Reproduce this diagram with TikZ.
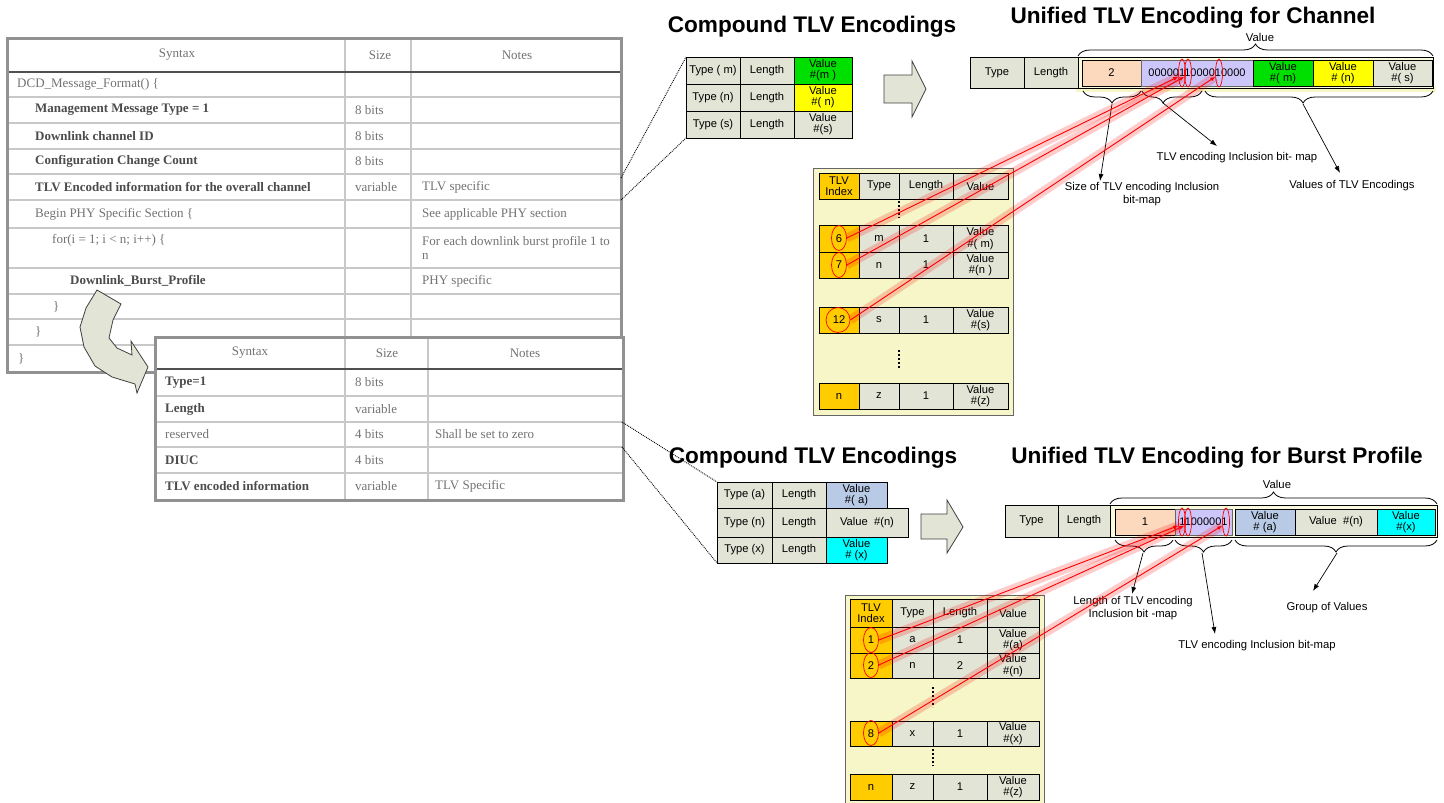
\documentclass[tikz,border=0pt]{standalone}
\usepackage{fontspec}
\setmainfont{Liberation Sans}
\newfontfamily\tabfont{Liberation Serif}
\usetikzlibrary{arrows.meta,shapes.geometric,decorations.pathreplacing,calc}
\definecolor{cellg}{RGB}{226,228,214}
\definecolor{peach}{RGB}{252,216,188}
\definecolor{lav}{RGB}{204,198,250}
\definecolor{vgreen}{RGB}{0,224,0}
\definecolor{vyellow}{RGB}{255,255,0}
\definecolor{vblue}{RGB}{184,202,230}
\definecolor{vcyan}{RGB}{0,255,255}
\definecolor{gold}{RGB}{255,204,0}
\definecolor{panel}{RGB}{246,246,200}
\definecolor{arrowfill}{RGB}{226,229,214}
\definecolor{tabgrey}{RGB}{200,200,200}
\definecolor{tabdark}{RGB}{80,80,80}
\definecolor{tabouter}{RGB}{145,145,145}
\newcommand\tcell[7]{\node[cell,fill=#6,anchor=north west,minimum width={(#4-#2)*1pt},minimum height={(#5-#3)*1pt}] (#1) at (#2,#3) {#7};}
\begin{document}
\begin{tikzpicture}[x=1pt,y=-1pt,
  cell/.style={draw=black,line width=0.8pt,inner sep=0pt,outer sep=0pt,align=center,font=\fontsize{11.2}{11.2}\selectfont},
  icell/.style={cell,draw=black!60,line width=0.5pt},
  ttl/.style={font=\fontsize{22.6}{24}\selectfont\bfseries},
  lbl/.style={font=\fontsize{11.3}{13}\selectfont,align=center,inner sep=0pt},
  tl/.style={font=\tabfont\fontsize{13}{14.5}\selectfont,text=black!55,anchor=west,inner sep=0pt},
  tlb/.style={font=\tabfont\bfseries\fontsize{13}{14.5}\selectfont,text=black!70,anchor=west,inner sep=0pt},
  th/.style={font=\tabfont\fontsize{13}{14.5}\selectfont,text=black!55,inner sep=0pt},
  gridl/.style={tabgrey,line width=1.5pt},
  hdrl/.style={tabdark,line width=2.5pt},
  outl/.style={tabouter,line width=3pt},
  blockarrow/.style={draw=black!75,fill=arrowfill,line width=0.8pt},
  zoomline/.style={black,line width=0.9pt,densely dotted},
  band/.style={line width=9pt,red,opacity=0.2},
  redarr/.style={red,line width=0.9pt,-{Latex[length=5pt,width=4pt]}},
  bitell/.style={ellipse,draw=red,line width=0.7pt,minimum width=7pt,minimum height=28pt,inner sep=0pt},
  idxell/.style={ellipse,draw=red,line width=0.7pt,minimum width=15pt,minimum height=25pt,inner sep=0pt},
  vdotsl/.style={line width=1.8pt,dash pattern=on 2pt off 2pt},
  brc/.style={decorate,decoration={brace,amplitude=12pt},line width=0.8pt},
  pointer/.style={-{Latex[length=7pt,width=5pt]},line width=0.7pt}]
\useasboundingbox[fill=white] (0,0) rectangle (1444,803);

% ---------- left table 1 ----------
\fill[white] (7,38) rectangle (621,372);
\foreach \yy in {97,123,149,174,200,228,268,294,319,345} \draw[gridl] (7,\yy) -- (621,\yy);
\draw[gridl] (345,38) -- (345,372);
\draw[gridl] (411,38) -- (411,372);
\draw[hdrl] (7,72) -- (621,72);
\draw[outl] (7,38) rectangle (621,372);
\node[th] (h1a) at (177,55) {Syntax};
\node[th] (h1b) at (380,55) {Size};
\node[th] (h1c) at (517,55) {Notes};
\node[tl] (r1) at (17,84.5) {DCD\_Message\_Format() \{};
\node[tlb] (r2) at (35,110) {Management Message Type = 1};
\node[tl] (r2s) at (355,110) {8 bits};
\node[tlb] (r3) at (35,136) {Downlink channel ID};
\node[tl] (r3s) at (355,136) {8 bits};
\node[tlb] (r4) at (35,161.5) {Configuration Change Count};
\node[tl] (r4s) at (355,161.5) {8 bits};
\node[tlb] (r5) at (35,187) {TLV Encoded information for the overall channel};
\node[tl] (r5s) at (355,187) {variable};
\node[tl] (r5n) at (422,187) {TLV specific};
\node[tl] (r6) at (35,214) {Begin PHY Specific Section \{};
\node[tl] (r6n) at (422,214) {See applicable PHY section};
\node[tl] (r7) at (52,240) {for(i = 1; i < n; i++) \{};
\node[tl,align=left] (r7n) at (422,248) {For each downlink burst profile 1 to\\n};
\node[tlb] (r8) at (70,281) {Downlink\_Burst\_Profile};
\node[tl] (r8n) at (422,281) {PHY specific};
\node[tl] (r9) at (53,306.5) {\}};
\node[tl] (r10) at (35,332) {\}};
\node[tl] (r11) at (18,358.5) {\}};

% ---------- curved block arrow ----------
\draw[blockarrow] (97,290) -- (121,304) -- (113,320) -- (109,338) -- (117,348) -- (132,355)
  -- (131,341) -- (148,367) -- (137,393) -- (135,384) -- (112,377) -- (95,366) -- (84,347)
  -- (80,327) -- (86,308) -- cycle;

% ---------- left table 2 ----------
\fill[white] (155,337) rectangle (623,500);
\foreach \yy in {396,422,447,473} \draw[gridl] (155,\yy) -- (623,\yy);
\draw[gridl] (345,337) -- (345,500);
\draw[gridl] (428,337) -- (428,500);
\draw[hdrl] (155,369) -- (623,369);
\draw[outl] (155,337) rectangle (623,500);
\node[th] (h2a) at (250,353) {Syntax};
\node[th] (h2b) at (387,353) {Size};
\node[th] (h2c) at (525,353) {Notes};
\node[tlb] (s1) at (165,382.5) {Type=1};
\node[tl] (s1s) at (355,382.5) {8 bits};
\node[tlb] (s2) at (165,409) {Length};
\node[tl] (s2s) at (355,409) {variable};
\node[tl] (s3) at (165,434.5) {reserved};
\node[tl] (s3s) at (355,434.5) {4 bits};
\node[tl] (s3n) at (435,434.5) {Shall be set to zero};
\node[tlb] (s4) at (165,460) {DIUC};
\node[tl] (s4s) at (355,460) {4 bits};
\node[tlb] (s5) at (165,486.5) {TLV encoded information};
\node[tl] (s5s) at (355,486.5) {variable};
\node[tl] (s5n) at (435,486.5) {TLV Specific};

% ---------- zoom lines ----------
\coordinate (z1a) at (621,178); \coordinate (z1b) at (621,200);
\coordinate (z2a) at (622,422); \coordinate (z2b) at (622,447);

% ---------- titles ----------
\node[ttl] (t1) at (812,27) {Compound TLV Encodings};
\node[ttl] (t2) at (1193,18) {Unified TLV Encoding for Channel};
\node[ttl] (t3) at (813,458) {Compound TLV Encodings};
\node[ttl] (t4) at (1217,458) {Unified TLV Encoding for Burst Profile};

% ---------- compound top ----------
\tcell{cm1}{686}{57}{740}{84}{cellg}{Type ( m)}
\tcell{cm2}{740}{57}{794}{84}{cellg}{Length}
\tcell{cm3}{794}{57}{852}{84}{vgreen}{Value\\\#(m )}
\tcell{cn1}{686}{84}{740}{111}{cellg}{Type (n)}
\tcell{cn2}{740}{84}{794}{111}{cellg}{Length}
\tcell{cn3}{794}{84}{852}{111}{vyellow}{Value\\\#( n)}
\tcell{cs1}{686}{111}{740}{138}{cellg}{Type (s)}
\tcell{cs2}{740}{111}{794}{138}{cellg}{Length}
\tcell{cs3}{794}{111}{852}{138}{cellg}{Value\\\#(s)}
\draw[zoomline] (z1a) -- (cm1.north west);
\draw[zoomline] (z1b) -- (cs1.south west);

% ---------- compound bottom ----------
\tcell{ca1}{717}{482}{772}{508}{cellg}{Type (a)}
\tcell{ca2}{772}{482}{826}{508}{cellg}{Length}
\tcell{ca3}{826}{482}{887}{508}{vblue}{Value\\\#( a)}
\tcell{cb1}{717}{508}{772}{537}{cellg}{Type (n)}
\tcell{cb2}{772}{508}{826}{537}{cellg}{Length}
\tcell{cb3}{826}{508}{908}{537}{cellg}{Value \ \#(n)}
\tcell{cx1}{717}{537}{772}{563}{cellg}{Type (x)}
\tcell{cx2}{772}{537}{826}{563}{cellg}{Length}
\tcell{cx3}{826}{537}{887}{563}{vcyan}{Value\\\# (x)}
\draw[zoomline] (z2a) -- (ca1.north west);
\draw[zoomline] (z2b) -- (cx1.south west);

% ---------- block arrows ----------
\draw[blockarrow] (884,75) -- (912,75) -- (912,61) -- (926,89) -- (912,117) -- (912,103) -- (884,103) -- cycle;
\draw[blockarrow] (921,514) -- (947,514) -- (947,500) -- (963,527) -- (947,553) -- (947,539) -- (921,539) -- cycle;

% ---------- unified top ----------
\fill[panel] (1076,86) rectangle (1436,92);
\tcell{ut}{970}{57}{1024}{88}{cellg}{Type}
\tcell{ul}{1024}{57}{1078}{88}{cellg}{Length}
\tcell{uv}{1078}{57}{1433}{88}{panel!60}{}
\tcell{us}{1082}{60}{1141}{86}{peach}{2}
\node[icell,fill=lav,anchor=north west,minimum width=112pt,minimum height=26pt,font=\fontsize{11}{12}\selectfont] (ub) at (1141,60) {0000011000010000};
\tcell{um}{1253}{60}{1313}{86}{vgreen}{Value\\\#( m)}
\tcell{un}{1313}{60}{1373}{86}{vyellow}{Value\\\# (n)}
\tcell{uz}{1373}{60}{1432}{86}{cellg}{Value\\\#( s)}
\draw[brc] (1078,56) -- (1433,56);
\node[lbl] (uvl) at (1260,37) {Value};
\draw[brc] (1141,91) -- (1083,91);
\draw[brc,decoration={aspect=0.65}] (1202,91) -- (1142,91);
\draw[brc,decoration={aspect=0.57}] (1433,91) -- (1205,91);
\coordinate (ub1) at (1112,104); \coordinate (ub2) at (1163,103); \coordinate (ub3) at (1303,104);
\node[lbl] (l1) at (1142,194) {Size of TLV encoding Inclusion\\bit-map};
\node[lbl] (l2) at (1237,158) {TLV encoding Inclusion bit- map};
\node[lbl] (l3) at (1352,186) {Values of TLV Encodings};
\coordinate (ua1) at (1100,181); \coordinate (ua2) at (1217,146); \coordinate (ua3) at (1340,173);
\draw[pointer] (ub1) -- (ua1);
\draw[pointer] (ub2) -- (ua2);
\draw[pointer] (ub3) -- (ua3);

% ---------- unified bottom ----------
\tcell{bt}{1005}{505}{1058}{537}{cellg}{Type}
\tcell{bl}{1058}{505}{1110}{537}{cellg}{Length}
\tcell{bv}{1110}{505}{1437}{537}{panel!60}{}
\tcell{bs}{1115}{509}{1175}{535}{peach}{1}
\node[icell,fill=lav,anchor=north west,minimum width=57pt,minimum height=26pt,font=\fontsize{11}{12}\selectfont] (bb) at (1175,509) {11000001};
\tcell{ba}{1235}{509}{1295}{535}{vblue}{Value\\\# (a)}
\tcell{bn}{1295}{509}{1377}{535}{cellg}{Value \ \#(n)}
\tcell{bx}{1377}{509}{1435}{535}{vcyan}{Value\\\#(x)}
\draw[brc] (1110,504) -- (1437,504);
\node[lbl] (bvl) at (1277,484) {Value};
\draw[brc] (1173,540) -- (1115,540);
\draw[brc] (1232,540) -- (1175,540);
\draw[brc] (1437,540) -- (1235,540);
\coordinate (bb1) at (1143,553); \coordinate (bb2) at (1202,553); \coordinate (bb3) at (1337,553);
\node[lbl] (m1) at (1133,608) {Length of TLV encoding\\Inclusion bit -map};
\node[lbl] (m2) at (1257,646) {TLV encoding Inclusion bit-map};
\node[lbl] (m3) at (1327,608) {Group of Values};
\coordinate (ba1) at (1132,594); \coordinate (ba2) at (1215,634); \coordinate (ba3) at (1313,591);
\draw[pointer] (bb1) -- (ba1);
\draw[pointer] (bb2) -- (ba2);
\draw[pointer] (bb3) -- (ba3);

% ---------- TLV index table top ----------
\draw[fill=panel,draw=black!60,line width=0.8pt] (813,168) rectangle (1013,415);
\tcell{xh0}{819}{173}{859}{199}{gold}{TLV\\Index}
\tcell{xh1}{859}{173}{899}{199}{cellg}{Type}
\tcell{xh2}{899}{173}{953}{199}{cellg}{Length}
\tcell{xh3}{953}{173}{1008}{199}{cellg}{Value}
\tcell{x60}{819}{225}{859}{252}{gold}{6}
\tcell{x61}{859}{225}{899}{252}{cellg}{m}
\tcell{x62}{899}{225}{953}{252}{cellg}{1}
\tcell{x63}{953}{225}{1008}{252}{cellg}{Value\\\#( m)}
\tcell{x70}{819}{252}{859}{278}{gold}{7}
\tcell{x71}{859}{252}{899}{278}{cellg}{n}
\tcell{x72}{899}{252}{953}{278}{cellg}{1}
\tcell{x73}{953}{252}{1008}{278}{cellg}{Value\\\#(n )}
\tcell{xc0}{819}{307}{859}{333}{gold}{12}
\tcell{xc1}{859}{307}{899}{333}{cellg}{s}
\tcell{xc2}{899}{307}{953}{333}{cellg}{1}
\tcell{xc3}{953}{307}{1008}{333}{cellg}{Value\\\#(s)}
\tcell{xn0}{819}{383}{859}{409}{gold}{n}
\tcell{xn1}{859}{383}{899}{409}{cellg}{z}
\tcell{xn2}{899}{383}{953}{409}{cellg}{1}
\tcell{xn3}{953}{383}{1008}{409}{cellg}{Value\\\#(z)}
\draw[vdotsl] (899,201) -- (899,218);
\draw[vdotsl] (899,350) -- (899,368);

% ---------- TLV index table bottom ----------
\draw[fill=panel,draw=black!60,line width=0.8pt] (845,595) rectangle (1044,808);
\tcell{yh0}{850}{599}{892}{627}{gold}{TLV\\Index}
\tcell{yh1}{892}{599}{933}{627}{cellg}{Type}
\tcell{yh2}{933}{599}{987}{627}{cellg}{Length}
\tcell{yh3}{987}{599}{1039}{627}{cellg}{Value}
\tcell{y10}{850}{627}{892}{653}{gold}{1}
\tcell{y11}{892}{627}{933}{653}{cellg}{a}
\tcell{y12}{933}{627}{987}{653}{cellg}{1}
\tcell{y13}{987}{627}{1039}{653}{cellg}{Value\\\#(a)}
\tcell{y20}{850}{653}{892}{678}{gold}{2}
\tcell{y21}{892}{653}{933}{678}{cellg}{n}
\tcell{y22}{933}{653}{987}{678}{cellg}{2}
\tcell{y23}{987}{653}{1039}{678}{cellg}{Value\\\#(n)}
\tcell{y80}{850}{721}{892}{746}{gold}{8}
\tcell{y81}{892}{721}{933}{746}{cellg}{x}
\tcell{y82}{933}{721}{987}{746}{cellg}{1}
\tcell{y83}{987}{721}{1039}{746}{cellg}{Value\\\#(x)}
\tcell{yn0}{850}{774}{892}{800}{gold}{n}
\tcell{yn1}{892}{774}{933}{800}{cellg}{z}
\tcell{yn2}{933}{774}{987}{800}{cellg}{1}
\tcell{yn3}{987}{774}{1039}{800}{cellg}{Value\\\#(z)}
\draw[vdotsl] (933,687) -- (933,707);
\draw[vdotsl] (933,749) -- (933,766);

% ---------- red markers ----------
\node[bitell] (b6) at (1182,73) {};
\node[bitell] (b7) at (1188,73) {};
\node[bitell] (b12) at (1219,73) {};
\node[idxell] (i6) at (839,238) {};
\node[idxell] (i7) at (839,265) {};
\node[idxell,minimum width=24pt] (i12) at (838,320) {};
\node[bitell] (c1) at (1182,522) {};
\node[bitell] (c2) at (1188,522) {};
\node[bitell] (c8) at (1226,522) {};
\node[idxell] (i1) at (871,640) {};
\node[idxell] (i2) at (871,665) {};
\node[idxell] (i8) at (871,733) {};
\foreach \s/\t in {i6/b6,i7/b7,i12/b12,i1/c1,i2/c2,i8/c8}{
  \draw[band] (\s.east) -- (\t.225);
  \draw[redarr] (\s.east) -- (\t.225);
}
\end{tikzpicture}
\end{document}
